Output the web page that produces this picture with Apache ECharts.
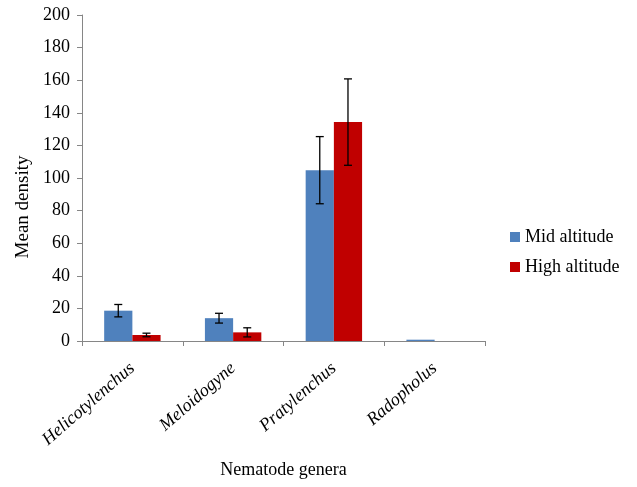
<!DOCTYPE html>
<html><head><meta charset="utf-8">
<script src="https://cdn.jsdelivr.net/npm/echarts@6/dist/echarts.min.js"></script>
<style>html,body{margin:0;padding:0;background:#fff}#c{width:637px;height:487px}</style>
</head><body><div id="c"></div>
<script>
const categories = ['Helicotylenchus', 'Meloidogyne', 'Pratylenchus', 'Radopholus'];
const midValues = [18.6, 14, 104.8, 0.8];
const midErrors = [3.8, 3, 20.6, 0];
const highValues = [3.7, 5.3, 134.3, 0];
const highErrors = [1.1, 2.8, 26.5, 0];
const yTicks = [0, 20, 40, 60, 80, 100, 120, 140, 160, 180, 200];

const font = 'Liberation Serif, Times New Roman, serif';
const chart = echarts.init(document.getElementById('c'));

function errSeries(vals, errs, sign) {
  return {
    type: 'custom',
    silent: true,
    z: 10,
    data: vals.map((v, i) => [i, v, errs[i]]),
    renderItem: function (params, api) {
      const err = api.value(2);
      if (!err) return null;
      const idx = api.value(0), v = api.value(1);
      const band = api.size([1, 0])[0];
      const x = api.coord([idx, 0])[0] + sign * band * 0.14;
      const top = api.coord([idx, v + err])[1];
      const bot = api.coord([idx, v - err])[1];
      const hw = 4;
      const st = { stroke: '#000', lineWidth: 1.3 };
      return { type: 'group', children: [
        { type: 'line', shape: { x1: x, y1: top, x2: x, y2: bot }, style: st },
        { type: 'line', shape: { x1: x - hw, y1: top, x2: x + hw, y2: top }, style: st },
        { type: 'line', shape: { x1: x - hw, y1: bot, x2: x + hw, y2: bot }, style: st }
      ]};
    }
  };
}

chart.setOption({
  animation: false,
  backgroundColor: '#fff',
  grid: { left: 82, right: 152, top: 15, bottom: 146 },
  legend: {
    orient: 'vertical', left: 505, top: 223, itemWidth: 10, itemHeight: 10, itemGap: 12,
    icon: 'rect',
    textStyle: { fontFamily: font, fontSize: 18, color: '#000' },
    data: ['Mid altitude', 'High altitude']
  },
  graphic: [{
    type: 'text', rotation: Math.PI / 2,
    x: 23, y: 207,
    style: { text: 'Mean density', fontFamily: font, fontSize: 19, fill: '#000', align: 'center', verticalAlign: 'middle' }
  }],
  xAxis: {
    type: 'category', data: categories,
    name: 'Nematode genera', nameLocation: 'middle', nameGap: 120,
    nameTextStyle: { fontFamily: font, fontSize: 18, color: '#000' },
    axisLine: { lineStyle: { color: '#868686' } },
    axisTick: { show: true, alignWithLabel: false, length: 5, lineStyle: { color: '#868686' } },
    axisLabel: { rotate: 41, interval: 0, fontFamily: font, fontStyle: 'italic', fontSize: 18, color: '#000', margin: 25 }
  },
  yAxis: {
    type: 'value', min: 0, max: 200, interval: 20,
    axisLine: { show: true, lineStyle: { color: '#868686' } },
    axisTick: { show: true, length: 5, lineStyle: { color: '#868686' } },
    splitLine: { show: false },
    axisLabel: { fontFamily: font, fontSize: 18, color: '#000', margin: 12,
      formatter: v => yTicks.includes(v) ? String(v) : '' }
  },
  series: [
    { name: 'Mid altitude', type: 'bar', data: midValues, barGap: '0%', barCategoryGap: '44%',
      itemStyle: { color: '#4f81bd' } },
    { name: 'High altitude', type: 'bar', data: highValues, barGap: '0%', barCategoryGap: '44%',
      itemStyle: { color: '#c00000' } },
    errSeries(midValues, midErrors, -1),
    errSeries(highValues, highErrors, 1)
  ]
});
</script></body></html>
